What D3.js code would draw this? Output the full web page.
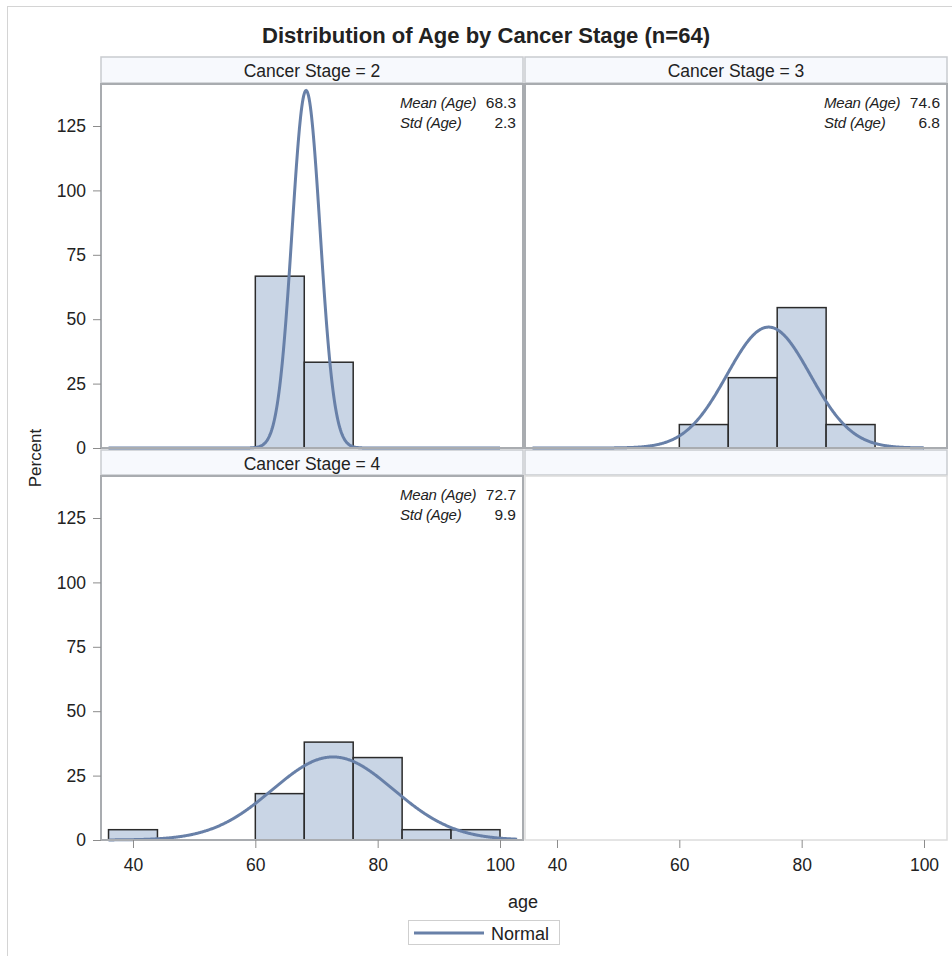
<!DOCTYPE html>
<html>
<head>
<meta charset="utf-8">
<script src="https://cdn.jsdelivr.net/npm/d3@7"></script>
<style>
  html, body { margin: 0; padding: 0; background: #fff; }
  svg { display: block; }
  text { font-family: "Liberation Sans", Arial, sans-serif; fill: #222; }
</style>
</head>
<body>
<svg id="chart" width="952" height="956"></svg>
<script>
// Histogram bins (left edges, width 8) and percentages per cancer stage
const stages = ["2", "3", "4"];
const binWidth = 8;
const stage2Bins = [60, 68];
const stage2Pct = [66.7, 33.3];
const stage3Bins = [60, 68, 76, 84];
const stage3Pct = [9.1, 27.3, 54.5, 9.1];
const stage4Bins = [36, 60, 68, 76, 84, 92];
const stage4Pct = [4, 18, 38, 32, 4, 4];
const means = [68.3, 74.6, 72.7];
const stds = [2.3, 6.8, 9.9];
const curveFrom = [36, 36, 36];
const curveTo = [100, 100, 102.8];
const xTicks = [40, 60, 80, 100];
const yTicks = [0, 25, 50, 75, 100, 125];

const binsByStage = [stage2Bins, stage3Bins, stage4Bins];
const pctByStage = [stage2Pct, stage3Pct, stage4Pct];

const svg = d3.select("#chart");

const barFill = "#c9d5e5";
const barStroke = "#2b2b2b";
const curveColor = "#6880a8";
const frameColor = "#a9acb0";
const headerFill = "#f7f9fd";
const headerStroke = "#c9cbcf";
const axisColor = "#8c8c8c";

// Outer frame
svg.append("rect").attr("x", 7.5).attr("y", 6.5).attr("width", 960).attr("height", 980)
  .attr("fill", "none").attr("stroke", "#d4d4d4").attr("stroke-width", 1);

// Title
svg.append("text").attr("x", 486).attr("y", 43).attr("text-anchor", "middle")
  .style("font-size", "22px").style("font-weight", "bold").attr("fill", "#000")
  .attr("textLength", 448).attr("lengthAdjust", "spacingAndGlyphs")
  .text("Distribution of Age by Cancer Stage (n=64)");

// Grid cells
const cols = [[101, 523], [525, 947]];
const headerRows = [[57, 83], [450, 475]];
const plotRows = [[84, 448], [476, 840]];

const x = cols.map(c => d3.scaleLinear().domain([34.77, 103.76]).range(c));
const yTop = (448 - 84) / ((448 - 126) / 125);
const y = plotRows.map(r => d3.scaleLinear().domain([0, yTop]).range([r[1], r[0]]));

// Cell layout: panel index -> [col, row]
const cells = [[0, 0], [1, 0], [0, 1]];

// Headers (including blank header of empty cell)
[[0, 0], [1, 0], [0, 1], [1, 1]].forEach(([ci, ri], i) => {
  const c = cols[ci], h = headerRows[ri];
  svg.append("rect").attr("x", c[0]).attr("y", h[0]).attr("width", c[1] - c[0]).attr("height", h[1] - h[0])
    .attr("fill", headerFill).attr("stroke", headerStroke).attr("stroke-width", 1.5);
  if (i < 3) {
    svg.append("text").attr("x", (c[0] + c[1]) / 2).attr("y", h[0] + 19.5).attr("text-anchor", "middle")
      .style("font-size", "17.5px").text("Cancer Stage = " + stages[i]);
  }
});

// Empty cell frame
svg.append("rect").attr("x", cols[1][0]).attr("y", plotRows[1][0])
  .attr("width", cols[1][1] - cols[1][0]).attr("height", plotRows[1][1] - plotRows[1][0])
  .attr("fill", "none").attr("stroke", "#dcdcdc").attr("stroke-width", 1.5);

const pdf = (v, m, s) => Math.exp(-0.5 * ((v - m) / s) ** 2) / (s * Math.sqrt(2 * Math.PI));

cells.forEach(([ci, ri], i) => {
  const xs = x[ci], ys = y[ri];
  const g = svg.append("g");
  // Bars
  g.selectAll("rect.bar").data(binsByStage[i].map((b, k) => ({ b, p: pctByStage[i][k] })))
    .join("rect").attr("class", "bar")
    .attr("x", d => xs(d.b)).attr("width", d => xs(d.b + binWidth) - xs(d.b))
    .attr("y", d => ys(d.p)).attr("height", d => ys(0) - ys(d.p))
    .attr("fill", barFill).attr("stroke", barStroke).attr("stroke-width", 1.5);
  // Fitted normal curve in percent units
  const pts = d3.range(curveFrom[i], curveTo[i] + 0.001, 0.1)
    .map(v => [v, 100 * binWidth * pdf(v, means[i], stds[i])]);
  g.append("path").datum(pts)
    .attr("d", d3.line().x(d => xs(d[0])).y(d => ys(d[1])).curve(d3.curveLinear))
    .attr("fill", "none").attr("stroke", curveColor).attr("stroke-width", 3);
  // Frame
  g.append("rect").attr("x", cols[ci][0]).attr("y", plotRows[ri][0])
    .attr("width", cols[ci][1] - cols[ci][0]).attr("height", plotRows[ri][1] - plotRows[ri][0])
    .attr("fill", "none").attr("stroke", frameColor).attr("stroke-width", 2);
  // Statistics inset
  const tx = cols[ci][1] - 7;
  const lx = cols[ci][0] + 299;
  [["Mean (Age)", means[i].toFixed(1), 24], ["Std (Age)", stds[i].toFixed(1), 44]].forEach(([lab, val, dy]) => {
    g.append("text").attr("x", lx).attr("y", plotRows[ri][0] + dy)
      .style("font-size", "15px").style("font-style", "italic").style("letter-spacing", "-0.2px").text(lab);
    g.append("text").attr("x", tx).attr("y", plotRows[ri][0] + dy).attr("text-anchor", "end")
      .style("font-size", "15.5px").text(val);
  });
});

const styleTicks = ax => {
  ax.select(".domain").remove();
  ax.selectAll("line").attr("stroke", axisColor);
  ax.selectAll("text").style("font-size", "17.5px").attr("fill", "#222")
    .style("font-family", "'Liberation Sans', Arial, sans-serif");
};

// Y axes
plotRows.forEach((r, ri) => {
  svg.append("g").attr("transform", `translate(${cols[0][0]},0)`)
    .call(d3.axisLeft(y[ri]).tickValues(yTicks).tickSize(8).tickPadding(7))
    .call(styleTicks);
});

// X axes
cols.forEach((c, ci) => {
  svg.append("g").attr("transform", `translate(0,${plotRows[1][1]})`)
    .call(d3.axisBottom(x[ci]).tickValues(xTicks).tickSize(8).tickPadding(11))
    .call(styleTicks);
});

// Axis titles
svg.append("text").attr("transform", "translate(41,458) rotate(-90)").attr("text-anchor", "middle")
  .style("font-size", "17px").text("Percent");
svg.append("text").attr("x", 523).attr("y", 908).attr("text-anchor", "middle")
  .style("font-size", "18px").text("age");

// Legend
const lg = svg.append("g");
lg.append("rect").attr("x", 408.5).attr("y", 920.5).attr("width", 151).attr("height", 24)
  .attr("fill", "#fff").attr("stroke", "#cfcfcf");
lg.append("line").attr("x1", 414).attr("x2", 484).attr("y1", 933).attr("y2", 933)
  .attr("stroke", curveColor).attr("stroke-width", 3);
lg.append("text").attr("x", 491).attr("y", 939.5).style("font-size", "18px").text("Normal");
</script>
</body>
</html>
